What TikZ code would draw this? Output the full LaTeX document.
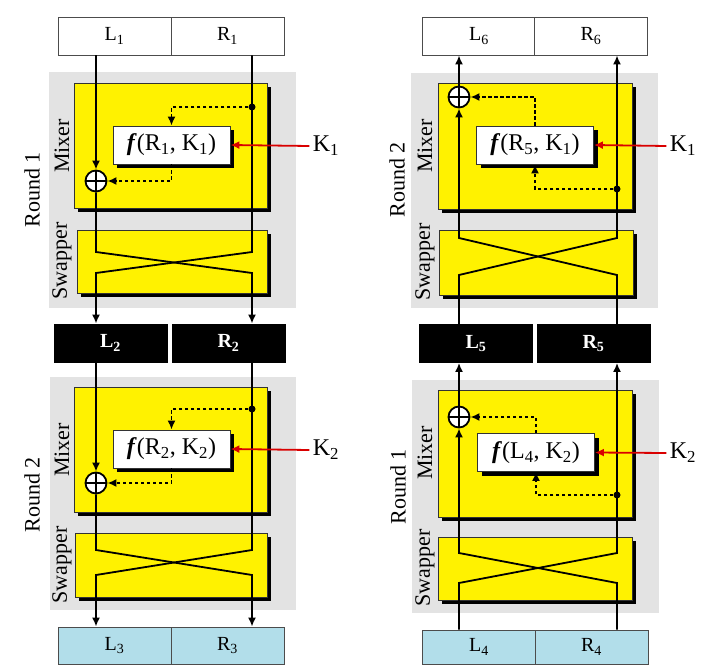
\documentclass[tikz,border=0pt]{standalone}
\usepackage{fontspec}
\setmainfont{Liberation Serif}
\usetikzlibrary{arrows.meta,shadows}

\definecolor{roundgray}{RGB}{227,227,227}
\definecolor{lightblue}{RGB}{178,222,234}

\tikzset{
  half/.style={draw=black!70, fill=white, thick, minimum width=113pt, minimum height=38pt,
    inner sep=0pt, font=\fontsize{20}{20}\selectfont},
  midhalf/.style={half, fill=black, text=white, draw=black, font=\fontsize{20}{20}\selectfont\bfseries},
  outhalf/.style={half, fill=lightblue},
  stage/.style={draw=black!80, fill=yellow, thick,
    drop shadow={shadow xshift=4pt, shadow yshift=-4pt, fill=black, opacity=1}},
  fbox/.style={draw=black!80, fill=white, thick, minimum width=117pt, minimum height=38pt,
    drop shadow={shadow xshift=4pt, shadow yshift=-4pt, fill=black, opacity=1},
    font=\fontsize{24}{24}\selectfont},
  xor/.style={circle, draw, fill=white, line width=1.8pt, inner sep=0pt, minimum size=21pt,
    path picture={\draw[line width=1.2pt] (path picture bounding box.north) -- (path picture bounding box.south)
      (path picture bounding box.west) -- (path picture bounding box.east);}},
  tap/.style={circle, fill=black, inner sep=0pt, minimum size=7pt},
  wire/.style={line width=1.8pt},
  feed/.style={line width=1.8pt, dash pattern=on 3.5pt off 2.5pt},
  keyin/.style={red!85!black, line width=1.8pt},
  lbl/.style={rotate=90, font=\fontsize{22}{22}\selectfont},
  keylbl/.style={font=\fontsize{24}{24}\selectfont}
}

\begin{document}
\begin{tikzpicture}[x=1pt, y=-1pt, >={Latex[length=9pt,width=8pt]}]
  \useasboundingbox (0,0) rectangle (712,666);
  \clip (0,0) rectangle (712,666);

  % left: encryption
  \fill[roundgray] (49,72) rectangle (296,308);
  \fill[roundgray] (50,377) rectangle (296,610);
  \draw[stage] (74,83) rectangle (267,208);
  \draw[stage] (77,230) rectangle (267,293);
  \draw[stage] (74,387) rectangle (267,512);
  \draw[stage] (75,533) rectangle (267,597);

  \node[half] (L1) at (114.5,36) {L\textsubscript{1}};
  \node[half] (R1) at (227.5,36) {R\textsubscript{1}};
  \node[midhalf] (L2) at (110.5,343) {L\textsubscript{2}};
  \node[midhalf] (R2) at (228.5,343) {R\textsubscript{2}};
  \node[outhalf, minimum height=37pt] (L3) at (114.5,645.5) {L\textsubscript{3}};
  \node[outhalf, minimum height=37pt] (R3) at (227.5,645.5) {R\textsubscript{3}};

  \node[fbox] (f1) at (171.5,145) {\textbf{\textit{f}}(R\textsubscript{1}, K\textsubscript{1})};
  \node[fbox] (f2) at (171.5,449) {\textbf{\textit{f}}(R\textsubscript{2}, K\textsubscript{2})};
  \node[xor] (xor1) at (96,181) {};
  \node[xor] (xor2) at (96,483) {};
  \node[tap] (dot1) at (252,107) {};
  \node[tap] (dot2) at (252,409) {};
  \node[keylbl] (k1) at (326,146) {K\textsubscript{1}};
  \node[keylbl] (k2) at (326,450) {K\textsubscript{2}};

  \draw[wire,->] (xor1 |- L1.south) -- (xor1.north);
  \draw[wire,->] (xor1.south) -- (96,252) -- (252,273) -- (dot1 |- R2.north);
  \draw[wire,->] (dot1 |- R1.south) -- (252,252) -- (96,273) -- (xor1 |- L2.north);
  \draw[feed,->] (dot1) -- (f1.north |- dot1) -- (f1.north);
  \draw[feed,->] (f1.south) -- (f1.south |- xor1) -- (xor1.east);
  \draw[keyin,->] (k1.west) -- (f1.east);

  \draw[wire,->] (xor2 |- L2.south) -- (xor2.north);
  \draw[wire,->] (xor2.south) -- (96,550) -- (252,575) -- (dot2 |- R3.north);
  \draw[wire,->] (dot2 |- R2.south) -- (252,550) -- (96,575) -- (xor2 |- L3.north);
  \draw[feed,->] (dot2) -- (f2.north |- dot2) -- (f2.north);
  \draw[feed,->] (f2.south) -- (f2.south |- xor2) -- (xor2.east);
  \draw[keyin,->] (k2.west) -- (f2.east);

  \node[lbl] at (32,190) {Round 1};
  \node[lbl] at (62,146) {Mixer};
  \node[lbl] at (62,261) {Swapper};
  \node[lbl] at (32,495) {Round 2};
  \node[lbl] at (62,450) {Mixer};
  \node[lbl] at (62,565) {Swapper};

  % right: decryption
  \fill[roundgray] (411,73) rectangle (658,308);
  \fill[roundgray] (412,380) rectangle (659,613);
  \draw[stage] (438,83) rectangle (632,209);
  \draw[stage] (439,230) rectangle (633,295);
  \draw[stage] (438,390) rectangle (632,517);
  \draw[stage] (438,537) rectangle (632,600);

  \node[half] (L6) at (479,36) {L\textsubscript{6}};
  \node[half] (R6) at (591,36) {R\textsubscript{6}};
  \node[midhalf] (L5) at (476,343.5) {L\textsubscript{5}};
  \node[midhalf] (R5) at (593.5,343.5) {R\textsubscript{5}};
  \node[outhalf, minimum height=34pt] (L4) at (479,647) {L\textsubscript{4}};
  \node[outhalf, minimum height=34pt] (R4) at (591.5,647) {R\textsubscript{4}};

  \node[fbox] (f6) at (535,145) {\textbf{\textit{f}}(R\textsubscript{5}, K\textsubscript{1})};
  \node[fbox] (f5) at (536,452.5) {\textbf{\textit{f}}(L\textsubscript{4}, K\textsubscript{2})};
  \node[xor] (xor6) at (459,97) {};
  \node[xor] (xor5) at (459,417) {};
  \node[tap] (dot6) at (617,189) {};
  \node[tap] (dot5) at (617,495) {};
  \node[keylbl] (k6) at (683,146) {K\textsubscript{1}};
  \node[keylbl] (k5) at (683,453) {K\textsubscript{2}};

  \draw[wire,->] (xor5 |- L4.north) -- (459,583) -- (617,553) -- (dot5 |- R5.south);
  \draw[wire,->] (dot5 |- R4.north) -- (617,583) -- (459,553) -- (xor5.south);
  \draw[wire,->] (xor5.north) -- (xor5 |- L5.south);
  \draw[feed,->] (dot5) -- (f5.south |- dot5) -- (f5.south);
  \draw[feed,->] (f5.north) -- (f5.north |- xor5) -- (xor5.east);
  \draw[keyin,->] (k5.west) -- (f5.east);

  \draw[wire,->] (xor6 |- L5.north) -- (459,275) -- (617,238) -- (dot6 |- R6.south);
  \draw[wire,->] (dot6 |- R5.north) -- (617,275) -- (459,238) -- (xor6.south);
  \draw[wire,->] (xor6.north) -- (xor6 |- L6.south);
  \draw[feed,->] (dot6) -- (f6.south |- dot6) -- (f6.south);
  \draw[feed,->] (f6.north) -- (f6.north |- xor6) -- (xor6.east);
  \draw[keyin,->] (k6.west) -- (f6.east);

  \node[lbl] at (397,180) {Round 2};
  \node[lbl] at (425,146) {Mixer};
  \node[lbl] at (425,262) {Swapper};
  \node[lbl] at (398,487) {Round 1};
  \node[lbl] at (425,453) {Mixer};
  \node[lbl] at (425,568) {Swapper};
\end{tikzpicture}
\end{document}
